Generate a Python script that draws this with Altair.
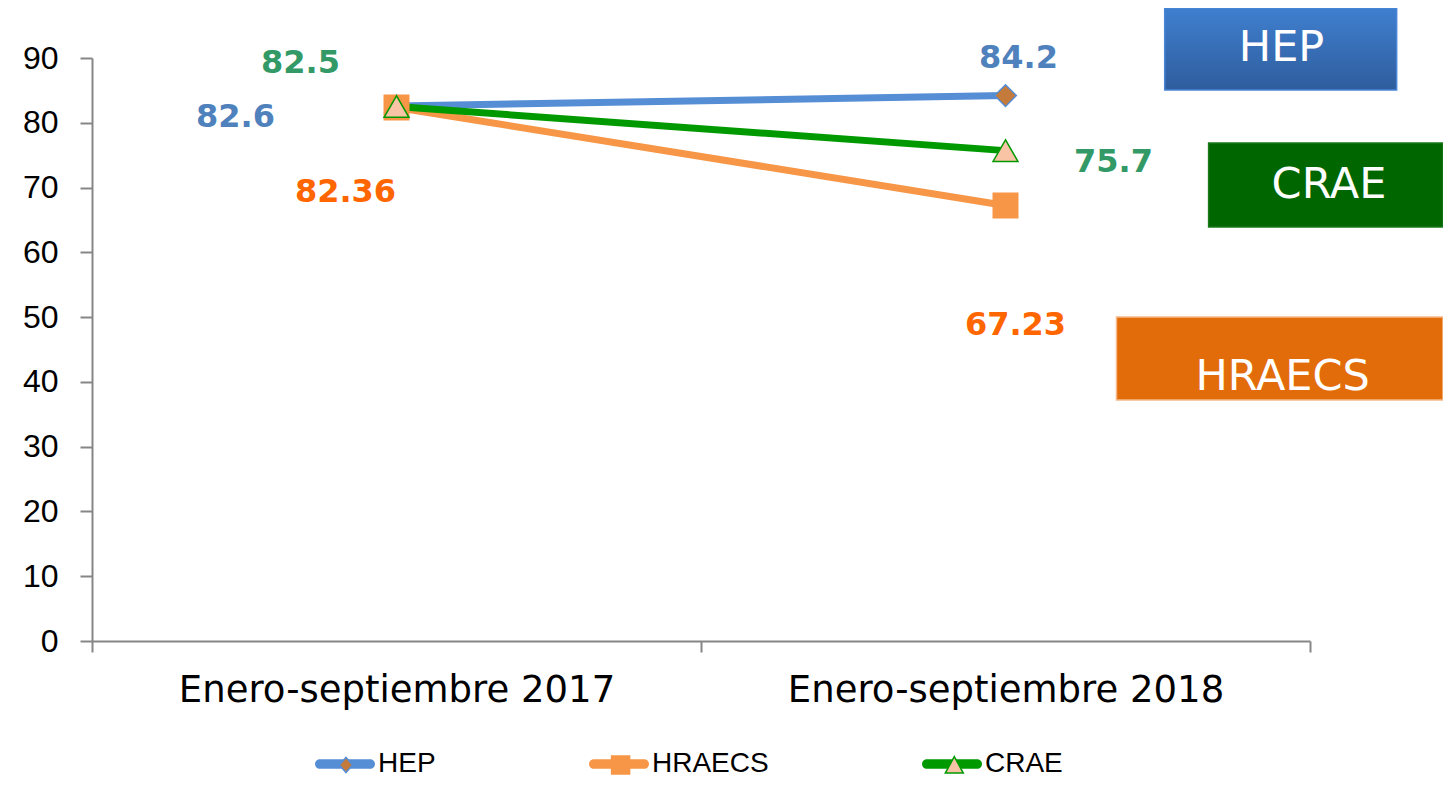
import altair as alt
import pandas as pd

# ---------------- data ----------------
periodos = ["Enero-septiembre 2017", "Enero-septiembre 2018"]
series = ["HEP", "HRAECS", "CRAE"]
hep = [82.6, 84.2]
hraecs = [82.36, 67.23]
crae = [82.5, 75.7]
valores = {"HEP": hep, "HRAECS": hraecs, "CRAE": crae}
y_ticks = [0, 10, 20, 30, 40, 50, 60, 70, 80, 90]

# annotation boxes (x in a hidden 0-100 scale, y in value units)
box_labels = ["HEP", "CRAE", "HRAECS"]
box_x0 = [79.4, 82.65, 75.83]
box_x1 = [96.57, 100.0, 100.0]
box_y0 = [97.7, 76.88, 50.02]
box_y1 = [85.06, 63.91, 37.20]
box_tx = [88.05, 91.56, 88.13]
box_ty = [91.54, 70.40, 40.75]

rows = []
for s in series:
    for p, v in zip(periodos, valores[s]):
        rows.append({"serie": s, "periodo": p, "valor": v, "etiqueta": f"{v:g}"})
df = pd.DataFrame(rows)

boxes = pd.DataFrame({"label": box_labels, "x0": box_x0, "x1": box_x1,
                      "y0": box_y0, "y1": box_y1, "tx": box_tx, "ty": box_ty})

# ---------------- styles ----------------
line_colors = {"HEP": "#558ed5", "HRAECS": "#f79646", "CRAE": "#009a00"}
marker_fill = {"HEP": "#c47a3a", "HRAECS": "#f79646", "CRAE": "#f9c3a5"}
marker_shape = {"HEP": "diamond", "HRAECS": "square", "CRAE": "triangle-up"}
marker_size = {"HEP": 470, "HRAECS": 600, "CRAE": 620}
label_colors = {"HEP": "#4f81bd", "HRAECS": "#ff6600", "CRAE": "#339966"}
label_offsets = {
    ("HEP", 0): (-161, 11), ("CRAE", 0): (-96, -44), ("HRAECS", 0): (-51, 85),
    ("HEP", 1): (13, -38), ("CRAE", 1): (108, 11), ("HRAECS", 1): (10, 120),
}
axis_gray = "#868686"

x_axis = alt.Axis(title=None, labelFont="DejaVu Sans", labelFontSize=37,
                  labelColor="black", labelPadding=20, labelAngle=0, labelLimit=1000,
                  tickSize=11, tickColor=axis_gray, tickWidth=2,
                  domainColor=axis_gray, domainWidth=2, tickBand="extent",
                  grid=False)
y_axis = alt.Axis(title=None, values=y_ticks, labelFont="Liberation Sans",
                  labelFontSize=32, labelColor="black", labelPadding=22,
                  tickSize=12, tickColor=axis_gray, tickWidth=2,
                  domainColor=axis_gray, domainWidth=2, grid=False)
y_scale = alt.Scale(domain=[0, 90], nice=False, zero=True)

X = alt.X("periodo:N",
          scale=alt.Scale(type="band", domain=periodos, range=[0, 1218],
                          paddingInner=0, paddingOuter=0),
          axis=x_axis)
Y = alt.Y("valor:Q", scale=y_scale, axis=y_axis)

base = alt.Chart(df)

layers = []
for s in series:
    layers.append(base.transform_filter(alt.datum.serie == s)
                  .mark_line(color=line_colors[s], strokeWidth=7)
                  .encode(x=X, y=Y))
for s in series:
    layers.append(base.transform_filter(alt.datum.serie == s)
                  .mark_point(filled=True, shape=marker_shape[s], size=marker_size[s],
                              fill=marker_fill[s], stroke=line_colors[s],
                              strokeWidth=1.5, opacity=1)
                  .encode(x=X, y=Y))
for (s, i), (dx, dy) in label_offsets.items():
    layers.append(base.transform_filter((alt.datum.serie == s) & (alt.datum.periodo == periodos[i]))
                  .mark_text(font="DejaVu Sans", fontWeight="bold", fontSize=32,
                             align="center", baseline="middle", dx=dx, dy=dy,
                             color=label_colors[s])
                  .encode(x=X, y=Y, text="etiqueta:N"))
main = alt.layer(*layers)

# ---------------- legend: line legend + one marker-only legend per series on top ----------------
line_path = ("M-0.84,-0.16 L0.84,-0.16 A0.16,0.16 0 0 1 0.84,0.16 "
             "L-0.84,0.16 A0.16,0.16 0 0 1 -0.84,-0.16 Z")
legend_marker_paths = {
    "HEP": "M-0.22,0 L0,-0.25 L0.22,0 L0,0.25 Z",
    "HRAECS": "M-0.3,-0.3 L0.3,-0.3 L0.3,0.3 L-0.3,0.3 Z",
    "CRAE": "M0,-0.28 L0.3,0.27 L-0.3,0.27 Z",
}
LEG_Y = 676
leg_a = alt.Legend(orient="none", legendX=223, legendY=LEG_Y, direction="horizontal",
                   title=None, labelFont="Liberation Sans", labelFontSize=28,
                   labelColor="black", symbolSize=3600, symbolStrokeWidth=0,
                   columnPadding=153, labelOffset=3, padding=0)

legend_a = base.transform_filter("false").mark_point(filled=True, opacity=1, strokeWidth=0).encode(
    color=alt.Color("serie:N", scale=alt.Scale(domain=series, range=[line_colors[s] for s in series]),
                    legend=leg_a),
    shape=alt.Shape("serie:N", scale=alt.Scale(domain=series, range=[line_path] * 3), legend=leg_a),
)

# x position of each legend entry (follows legend A layout)
marker_leg_x = {"HEP": 223, "HRAECS": 497.6, "CRAE": 831.3}
marker_legends = []
for s in series:
    lb = alt.Legend(orient="none", legendX=marker_leg_x[s], legendY=LEG_Y, direction="horizontal",
                    title=None, values=[s], labelExpr="''", labelFontSize=28,
                    symbolSize=3600, symbolStrokeWidth=1.5, padding=0)
    marker_legends.append(
        base.transform_filter("false").mark_point(filled=True, opacity=1, strokeWidth=1.5).encode(
            fill=alt.Fill("serie:N", scale=alt.Scale(domain=[s], range=[marker_fill[s]]), legend=lb),
            stroke=alt.Stroke("serie:N", scale=alt.Scale(domain=[s], range=[line_colors[s]]), legend=lb),
            shape=alt.Shape("serie:N", scale=alt.Scale(domain=[s], range=[legend_marker_paths[s]]),
                            legend=lb),
        ))

# ---------------- annotation boxes ----------------
bx_scale = alt.Scale(domain=[0, 100], nice=False, zero=False)
box_fills = {
    "HEP": alt.Gradient(gradient="linear", x1=0, x2=0, y1=0, y2=1,
                        stops=[alt.GradientStop(color="#3f7fcf", offset=0),
                               alt.GradientStop(color="#2f5d9d", offset=1)]),
    "CRAE": "#006600",
    "HRAECS": "#e36c0a",
}
box_strokes = {"HEP": "#4a86d8", "CRAE": "#1a7a1a", "HRAECS": "#f8b98a"}
bchart = alt.Chart(boxes)
box_layers = []
for lab in box_labels:
    box_layers.append(bchart.transform_filter(alt.datum.label == lab)
                      .mark_rect(fill=box_fills[lab], stroke=box_strokes[lab], strokeWidth=1.5)
                      .encode(x=alt.X("x0:Q", scale=bx_scale, axis=None), x2="x1:Q",
                              y=alt.Y("y0:Q", scale=y_scale, axis=y_axis), y2="y1:Q"))
box_layers.append(bchart.mark_text(font="DejaVu Sans", fontSize=43, color="white",
                                   align="center", baseline="middle")
                  .encode(x=alt.X("tx:Q", scale=bx_scale, axis=None),
                          y=alt.Y("ty:Q", scale=y_scale, axis=y_axis),
                          text="label:N"))
boxes_layer = alt.layer(*box_layers)

chart = alt.layer(main, legend_a, *marker_legends, boxes_layer).resolve_scale(
    x="independent", color="independent", fill="independent",
    stroke="independent", shape="independent",
).properties(
    width=1351, height=583,
    autosize=alt.AutoSizeParams(type="none"),
    padding={"left": 84, "top": 50, "right": 0, "bottom": 136},
    background="white",
).configure_view(stroke=None)

chart.save("out.html", embed_options={"renderer": "svg", "actions": False})
